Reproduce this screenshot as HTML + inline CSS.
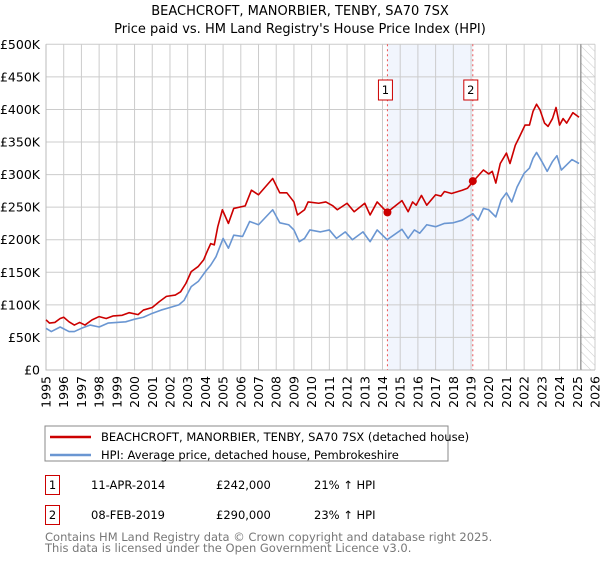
<!DOCTYPE html>
<html><head><meta charset="utf-8"><style>
body{margin:0;background:#fff;font-family:"Liberation Sans","DejaVu Sans",sans-serif;}
svg text{font-family:"DejaVu Sans","Liberation Sans",sans-serif;}
</style></head><body>
<svg id="c" width="600" height="560" xmlns="http://www.w3.org/2000/svg">
<defs><pattern id="hatch" width="6" height="6" patternUnits="userSpaceOnUse" patternTransform="rotate(-45)"><line x1="0" y1="0" x2="0" y2="6" stroke="#ccc" stroke-width="1"/></pattern></defs>
<text x="300" y="15" text-anchor="middle" font-size="13" fill="#000">BEACHCROFT, MANORBIER, TENBY, SA70 7SX</text>
<text x="300" y="33" text-anchor="middle" font-size="13" fill="#000">Price paid vs. HM Land Registry's House Price Index (HPI)</text>
<g id="plot"></g>
<rect x="45" y="426" width="403" height="35" fill="#fff" stroke="#888"/>
<line x1="50" y1="437" x2="91" y2="437" stroke="#cc0000" stroke-width="2.5"/>
<text x="101" y="441" font-size="11.5">BEACHCROFT, MANORBIER, TENBY, SA70 7SX (detached house)</text>
<line x1="50" y1="455" x2="91" y2="455" stroke="#6a96d2" stroke-width="2.5"/>
<text x="101" y="459" font-size="11.5">HPI: Average price, detached house, Pembrokeshire</text>
<g>
<rect x="45.5" y="475.5" width="14" height="19" fill="none" stroke="#cc0000"/>
<text x="52.5" y="489" text-anchor="middle" font-size="11.5">1</text>
<text x="91" y="489" font-size="11.5">11-APR-2014</text>
<text x="216" y="489" font-size="11.5">£242,000</text>
<text x="314" y="489" font-size="11.5">21% ↑ HPI</text></g>
<g>
<rect x="45.5" y="505.5" width="14" height="19" fill="none" stroke="#cc0000"/>
<text x="52.5" y="519" text-anchor="middle" font-size="11.5">2</text>
<text x="91" y="519" font-size="11.5">08-FEB-2019</text>
<text x="216" y="519" font-size="11.5">£290,000</text>
<text x="314" y="519" font-size="11.5">23% ↑ HPI</text></g>
<text x="45" y="541" font-size="11.5" fill="#777">Contains HM Land Registry data © Crown copyright and database right 2025.</text>
<text x="45" y="552" font-size="11.5" fill="#777">This data is licensed under the Open Government Licence v3.0.</text>
</svg>
<script>
const yTicks=[0,50000,100000,150000,200000,250000,300000,350000,400000,450000,500000];
const yTickLabels=["£0","£50K","£100K","£150K","£200K","£250K","£300K","£350K","£400K","£450K","£500K"];
const xYears=[1995,1996,1997,1998,1999,2000,2001,2002,2003,2004,2005,2006,2007,2008,2009,2010,2011,2012,2013,2014,2015,2016,2017,2018,2019,2020,2021,2022,2023,2024,2025,2026];
const redT=[1995,1995.2,1995.5,1995.8,1996,1996.3,1996.6,1996.9,1997.2,1997.6,1998,1998.4,1998.8,1999.3,1999.7,2000.2,2000.5,2001,2001.4,2001.8,2002.3,2002.6,2002.9,2003.2,2003.6,2003.9,2004.1,2004.3,2004.5,2004.7,2004.96,2005.3,2005.6,2006.25,2006.6,2007,2007.8,2008.2,2008.6,2009,2009.2,2009.6,2009.8,2010.4,2010.8,2011.2,2011.45,2012,2012.4,2013,2013.3,2013.7,2014.26,2015.1,2015.45,2015.7,2015.9,2016.2,2016.5,2017,2017.3,2017.5,2017.9,2018.5,2018.8,2019.1,2019.7,2020,2020.2,2020.4,2020.65,2021,2021.2,2021.5,2021.7,2022.05,2022.3,2022.5,2022.7,2022.9,2023.15,2023.35,2023.6,2023.8,2024,2024.2,2024.4,2024.75,2025.1];
const redV=[77,72,73,79,81,74,69,73,69,77,82,79,83,84,88,85,92,96,105,113,115,120,133,151,159,169,182,194,192,220,246,225,248,252,276,269,294,272,272,258,238,246,258,256,258,252,246,256,243,256,238,258,242,260,243,258,253,268,253,269,267,274,271,276,279,289,307,301,305,287,317,333,317,345,356,376,376,397,408,399,379,374,386,403,376,386,379,395,388];
const blueT=[1995,1995.3,1995.8,1996.3,1996.6,1997,1997.5,1998,1998.5,1999,1999.5,2000,2000.5,2001,2001.5,2002,2002.5,2002.8,2003.2,2003.6,2004,2004.3,2004.6,2005,2005.3,2005.6,2006.1,2006.5,2007,2007.8,2008.2,2008.7,2009,2009.3,2009.6,2009.9,2010.5,2011,2011.4,2011.9,2012.3,2012.9,2013.3,2013.7,2014.26,2015.1,2015.45,2015.8,2016.1,2016.5,2017,2017.5,2018,2018.5,2019.1,2019.4,2019.7,2020,2020.4,2020.7,2021,2021.3,2021.6,2022,2022.3,2022.5,2022.7,2023,2023.3,2023.6,2023.85,2024.1,2024.4,2024.7,2025.1];
const blueV=[64,59,66,59,59,64,69,66,72,73,74,78,81,87,92,96,100,107,128,136,151,161,174,202,187,207,205,228,223,246,226,223,215,197,202,215,212,215,202,212,200,212,197,215,200,216,202,215,210,223,220,225,226,230,240,230,248,246,235,261,272,258,281,302,310,325,334,320,305,320,329,307,315,323,317];
const saleT=[2014.28,2019.1];
const saleV=[242,290];
const saleLabels=["1","2"];
const X0=46,X1=595,Y0=370,Y1=44.3;
const xs=t=>X0+(t-1995)*(X1-X0)/31;
const ys=v=>Y0-v*(Y0-Y1)/500000;
const NS="http://www.w3.org/2000/svg";
const g=document.getElementById('plot');
function mk(tag,attrs,parent){const e=document.createElementNS(NS,tag);for(const k in attrs)e.setAttribute(k,attrs[k]);(parent||g).appendChild(e);return e;}
// shading
let e=mk('rect',{x:xs(saleT[0]),y:Y1,width:xs(saleT[1])-xs(saleT[0]),height:Y0-Y1,fill:'#eef3fc',opacity:0.8});


e=mk('rect',{x:xs(2025.2),y:Y1,width:X1-xs(2025.2),height:Y0-Y1,fill:'url(#hatch)'});


yTicks.forEach((v,i)=>{
 e=mk('line',{x1:X0,x2:X1,y1:ys(v),y2:ys(v),stroke:'#ccc','stroke-width':1});
 
 
 e=mk('text',{x:X0-6,y:ys(v)+4.5,'text-anchor':'end','font-size':12.5});
 e.textContent=yTickLabels[i];
 
 
});
xYears.forEach(yr=>{
 e=mk('line',{x1:xs(yr),x2:xs(yr),y1:Y1,y2:Y0,stroke:'#ccc','stroke-width':1});
 
 
 e=mk('text',{x:0,y:0,'text-anchor':'end','font-size':12.5,transform:`translate(${xs(yr)+4.5},${Y0+6}) rotate(-90)`});
 e.textContent=yr;
 
 
});
e=mk('line',{x1:xs(2025.2),x2:xs(2025.2),y1:Y1,y2:Y0,stroke:'#888','stroke-width':1.2});


e=mk('polyline',{points:`${X0},${Y1} ${X0},${Y0} ${X1},${Y0}`,fill:'none',stroke:'#bbb','stroke-width':1});


saleT.forEach((t,i)=>{
 e=mk('line',{x1:xs(t),x2:xs(t),y1:Y1,y2:Y0,stroke:'#ee5555','stroke-width':1,'stroke-dasharray':'2,3'});
 
 
 e=mk('rect',{x:xs(t)-9,y:80,width:14,height:20,fill:'#fff',stroke:'#cc0000'});
 
 
 e=mk('text',{x:xs(t)-2,y:94,'text-anchor':'middle','font-size':11.5});
 e.textContent=saleLabels[i];
 
 
});
e=mk('polyline',{points:blueT.map((t,i)=>xs(t)+','+ys(blueV[i]*1000)).join(' '),fill:'none',stroke:'#6a96d2','stroke-width':1.6,'stroke-linejoin':'round'});


e=mk('polyline',{points:redT.map((t,i)=>xs(t)+','+ys(redV[i]*1000)).join(' '),fill:'none',stroke:'#cc0000','stroke-width':1.6,'stroke-linejoin':'round'});


saleT.forEach((t,i)=>{
 e=mk('circle',{cx:xs(t),cy:ys(saleV[i]*1000),r:4,fill:'#cc0000'});
 
 
});
</script>
</body></html>
